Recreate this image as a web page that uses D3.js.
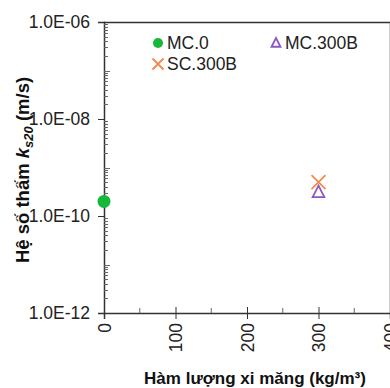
<!DOCTYPE html>
<html><head><meta charset="utf-8">
<script src="https://cdn.jsdelivr.net/npm/d3@7"></script>
<style>body{margin:0;background:#fff}svg{display:block}text{font-family:"Liberation Sans",Arial,sans-serif}</style>
</head><body><svg id="c" width="390" height="388"></svg>
<script>
const seriesNames = ["MC.0", "MC.300B", "SC.300B"];
const seriesX = [0, 300, 300];
const seriesY = [2.0e-10, 3.1e-10, 5.0e-10];
const seriesColors = ["#17b83a", "#8f55c6", "#f28a4d"];
const seriesShapes = ["circle", "triangle", "cross"];
const xTicks = [0, 100, 200, 300, 400];
const yTicks = [1e-12, 1e-10, 1e-8, 1e-6];
const yTickLabels = ["1.0E-12", "1.0E-10", "1.0E-08", "1.0E-06"];

const svg = d3.select("#c");
const L = 104, T = 22, B = 313, R = 390;
const x = d3.scaleLinear().domain([0, 400]).range([L, R]);
const y = d3.scaleLog().domain([1e-12, 1e-6]).range([B, T]);
const axisCol = "#333";

// right border (faint) and top border
svg.append("line").attr("x1", R - 0.5).attr("x2", R - 0.5).attr("y1", T).attr("y2", B).attr("stroke", "#ccc").attr("stroke-width", 1);
svg.append("line").attr("x1", L).attr("x2", R).attr("y1", T + 0.5).attr("y2", T + 0.5).attr("stroke", axisCol).attr("stroke-width", 1.5);

// Y axis
const yAx = svg.append("g").attr("transform", `translate(${L},0)`)
  .call(d3.axisLeft(y).tickValues(yTicks).tickFormat((d, i) => yTickLabels[i]).tickSize(6).tickPadding(8));
yAx.select(".domain").attr("stroke", axisCol).attr("stroke-width", 1.5);
yAx.selectAll(".tick line").attr("stroke", axisCol);
yAx.selectAll(".tick text").attr("font-size", 17.5).attr("fill", "#222").attr("font-family", "Liberation Sans, Arial, sans-serif");
// minor ticks inside
const minors = [];
for (let e = -12; e < -6; e++) for (let m = 1; m <= 9; m++) { if (m === 1 && e % 2 === 0) continue; minors.push({v: m * Math.pow(10, e), len: m === 1 ? 6 : 4}); }
svg.append("g").selectAll("line").data(minors).join("line")
  .attr("x1", L).attr("x2", d => L + d.len)
  .attr("y1", d => Math.round(y(d.v)) + 0.5).attr("y2", d => Math.round(y(d.v)) + 0.5)
  .attr("stroke", "#666").attr("stroke-width", 1);

// X axis
const xAx = svg.append("g").attr("transform", `translate(0,${B})`)
  .call(d3.axisBottom(x).tickValues(xTicks).tickFormat(d3.format("d")).tickSize(6).tickPadding(4));
xAx.select(".domain").attr("stroke", axisCol).attr("stroke-width", 1.5);
xAx.selectAll(".tick line").attr("stroke", axisCol).attr("y1", -6).attr("y2", 6);
xAx.selectAll(".tick text").attr("font-size", 17.5).attr("fill", "#222")
  .attr("font-family", "Liberation Sans, Arial, sans-serif")
  .attr("transform", "rotate(-90)").attr("text-anchor", "end")
  .attr("x", -10).attr("y", 0).attr("dy", "0.35em");
svg.append("g").selectAll("line").data([50, 150, 250, 350]).join("line")
  .attr("x1", d => x(d)).attr("x2", d => x(d)).attr("y1", B).attr("y2", B - 5)
  .attr("stroke", "#666");

// markers
function drawMarker(g, shape, cx, cy, color, s) {
  if (shape === "circle") g.append("circle").attr("cx", cx).attr("cy", cy).attr("r", s).attr("fill", color);
  else if (shape === "triangle") g.append("path").attr("d", `M${cx},${cy - s}L${cx + s * 0.9},${cy + s * 0.75}L${cx - s * 0.9},${cy + s * 0.75}Z`).attr("fill", "none").attr("stroke", color).attr("stroke-width", 1.8);
  else g.append("path").attr("d", `M${cx - s},${cy - s}L${cx + s},${cy + s}M${cx - s},${cy + s}L${cx + s},${cy - s}`).attr("stroke", color).attr("stroke-width", 1.8);
}
const pts = svg.append("g");
seriesNames.forEach((n, i) => {
  const size = seriesShapes[i] === "circle" ? 6.5 : (seriesShapes[i] === "triangle" ? 6.5 : 7);
  drawMarker(pts, seriesShapes[i], x(seriesX[i]), y(seriesY[i]), seriesColors[i], size);
});

// legend
const legPos = [[158, 43], [276, 43], [158, 64]];
const lg = svg.append("g");
seriesNames.forEach((n, i) => {
  const [lx, ly] = legPos[i];
  const size = seriesShapes[i] === "circle" ? 5 : (seriesShapes[i] === "triangle" ? 5 : 5.5);
  drawMarker(lg, seriesShapes[i], lx, ly, seriesColors[i], size);
  lg.append("text").attr("x", lx + 9).attr("y", ly).attr("dy", "0.36em").attr("font-size", 17.5).attr("fill", "#222").text(n);
});

// axis titles
svg.append("text").attr("x", 255).attr("y", 384).attr("text-anchor", "middle")
  .attr("font-size", 17).attr("font-weight", "bold").attr("fill", "#111")
  .text("Hàm lượng xi măng (kg/m³)");
const yt = svg.append("text").attr("transform", "translate(29,170) rotate(-90)").attr("text-anchor", "middle")
  .attr("font-size", 18.5).attr("font-weight", "bold").attr("fill", "#111");
yt.append("tspan").text("Hệ số thấm ");
yt.append("tspan").attr("font-style", "italic").text("k");
yt.append("tspan").attr("font-style", "italic").attr("font-size", 13).attr("dy", 4).text("s20");
yt.append("tspan").attr("dy", -4).text(" (m/s)");
</script></body></html>
